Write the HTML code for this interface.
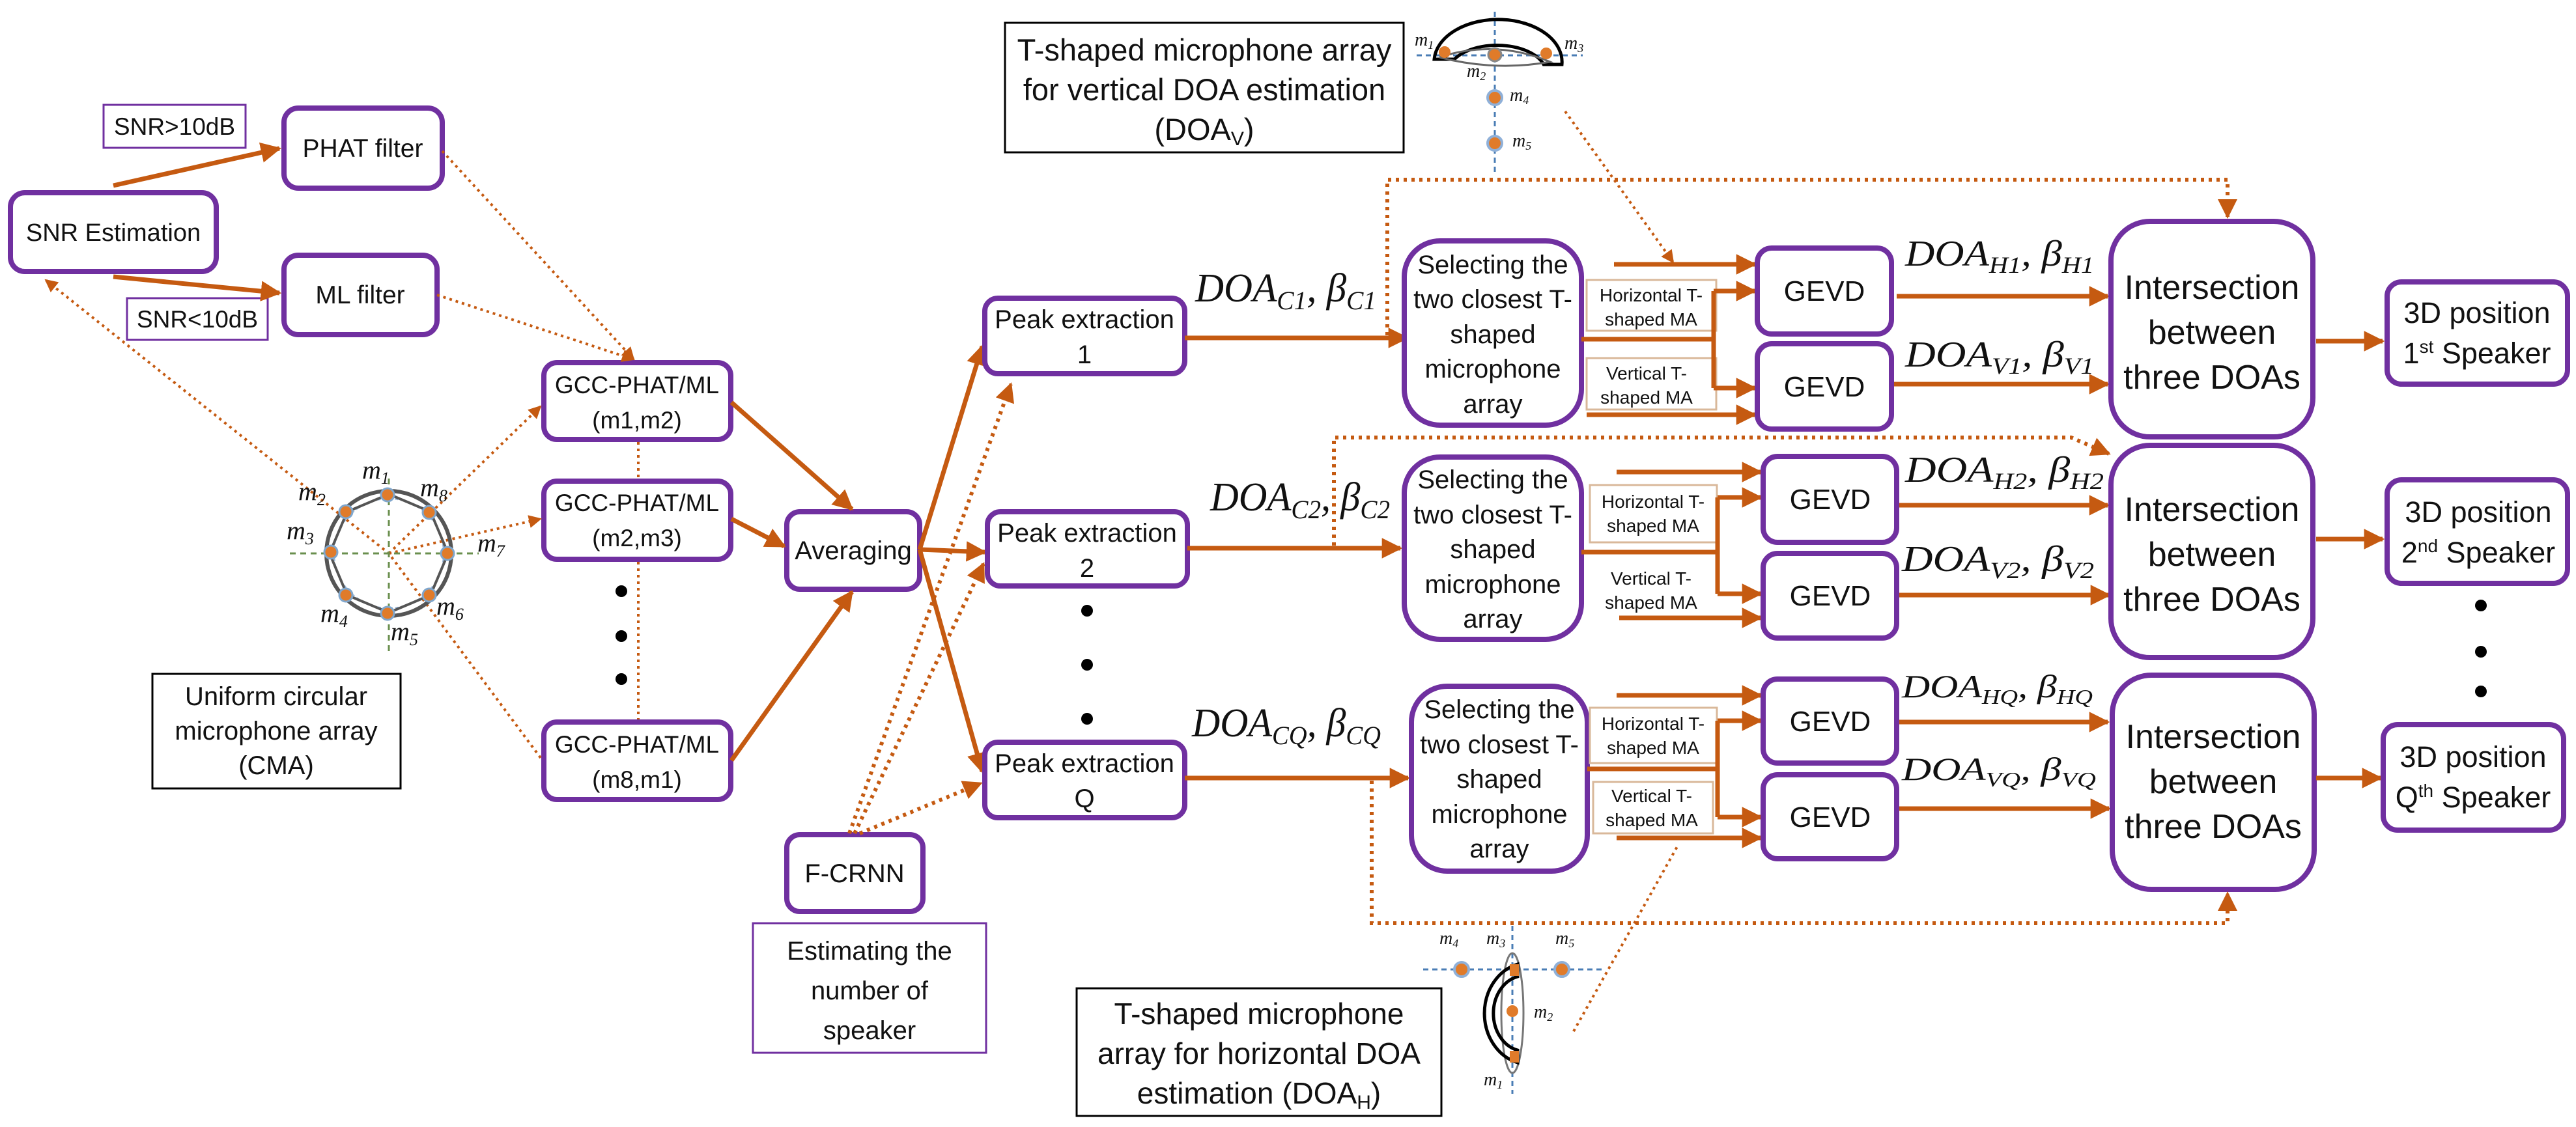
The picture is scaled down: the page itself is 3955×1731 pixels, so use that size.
<!DOCTYPE html>
<html><head><meta charset="utf-8"><style>
html,body{margin:0;padding:0;background:#fff}
svg{display:block}
.b{fill:#fff;stroke:#7030a0;stroke-width:8}
.t{font-family:"Liberation Sans",sans-serif;fill:#111;text-anchor:middle}
.s{stroke:#c55a11;stroke-width:7;fill:none}
.d{stroke:#c55a11;stroke-width:4;fill:none;stroke-dasharray:4 6}
.dd{stroke:#c55a11;stroke-width:6;fill:none;stroke-dasharray:5 7}
.m{font-family:"Liberation Serif",serif;font-style:italic;fill:#111}
.lb{fill:#fff;stroke:#d9b89a;stroke-width:3}
</style></head><body>
<svg width="3955" height="1731" viewBox="0 0 3955 1731" xmlns="http://www.w3.org/2000/svg">
<defs>
<marker id="a" viewBox="0 0 10 10" refX="9" refY="5" markerWidth="4.5" markerHeight="4.5" orient="auto" markerUnits="strokeWidth"><path d="M0,0L10,5L0,10z" fill="#c55a11"/></marker>
<marker id="ad" viewBox="0 0 10 10" refX="9" refY="5" markerWidth="5" markerHeight="5" orient="auto" markerUnits="strokeWidth"><path d="M0,0L10,5L0,10z" fill="#c55a11"/></marker>
</defs>

<rect class="b" x="16" y="296" width="316" height="121" rx="22"/>
<text class="t" x="174" y="370" font-size="38">SNR Estimation</text>
<rect class="b" x="436" y="166" width="243" height="123" rx="22"/>
<text class="t" x="557" y="241" font-size="39">PHAT filter</text>
<rect class="b" x="436" y="392" width="235" height="122" rx="22"/>
<text class="t" x="553" y="466" font-size="39">ML filter</text>
<rect x="159" y="161" width="218" height="66" fill="#fff" stroke="#7030a0" stroke-width="3"/>
<text class="t" x="268" y="207" font-size="37">SNR&gt;10dB</text>
<rect x="195" y="458" width="216" height="64" fill="#fff" stroke="#7030a0" stroke-width="3"/>
<text class="t" x="303" y="503" font-size="37">SNR&lt;10dB</text>

<line class="s" x1="174" y1="285" x2="429" y2="228" marker-end="url(#a)"/>
<line class="s" x1="174" y1="425" x2="429" y2="450" marker-end="url(#a)"/>

<rect class="b" x="835" y="557" width="287" height="118" rx="20"/>
<text class="t" x="978" y="604" font-size="37">GCC-PHAT/ML</text>
<text class="t" x="978" y="658" font-size="37">(m1,m2)</text>
<rect class="b" x="835" y="739" width="287" height="120" rx="20"/>
<text class="t" x="978" y="785" font-size="37">GCC-PHAT/ML</text>
<text class="t" x="978" y="839" font-size="37">(m2,m3)</text>
<rect class="b" x="835" y="1109" width="287" height="119" rx="20"/>
<text class="t" x="978" y="1156" font-size="37">GCC-PHAT/ML</text>
<text class="t" x="978" y="1210" font-size="37">(m8,m1)</text>
<line class="d" x1="980" y1="679" x2="980" y2="735"/>
<line class="d" x1="980" y1="863" x2="980" y2="1105"/>
<circle cx="954" cy="908" r="9" fill="#000"/><circle cx="954" cy="977" r="9" fill="#000"/><circle cx="954" cy="1043" r="9" fill="#000"/>

<line class="d" x1="679" y1="232" x2="973" y2="552" marker-end="url(#ad)"/>
<line class="d" x1="671" y1="453" x2="973" y2="552" marker-end="url(#ad)"/>
<polyline class="d" points="830,1164 597,850 70,430" marker-end="url(#ad)"/>
<line class="d" x1="597" y1="850" x2="830" y2="624" marker-end="url(#ad)"/>
<line class="d" x1="597" y1="850" x2="830" y2="797" marker-end="url(#ad)"/>

<g>
<line x1="597" y1="735" x2="597" y2="1000" stroke="#6a8f4e" stroke-width="3" stroke-dasharray="9 7"/>
<line x1="445" y1="850" x2="735" y2="850" stroke="#6a8f4e" stroke-width="3" stroke-dasharray="9 7"/>
<circle cx="597" cy="850" r="96" fill="none" stroke="#555" stroke-width="6"/>
<circle cx="597" cy="850" r="84" fill="none" stroke="#9bb8d8" stroke-width="2" stroke-dasharray="5 4"/>
<polygon points="597,759 661,786 688,850 661,914 597,941 533,914 506,850 533,786" fill="none" stroke="#555" stroke-width="4"/>
<g fill="#e07b2a" stroke="#7fa6cc" stroke-width="3">
<circle cx="595" cy="760" r="10"/><circle cx="659" cy="787" r="10"/><circle cx="687" cy="850" r="10"/><circle cx="659" cy="914" r="10"/>
<circle cx="595" cy="942" r="10"/><circle cx="531" cy="914" r="10"/><circle cx="508" cy="848" r="10"/><circle cx="531" cy="786" r="10"/>
</g>
<g class="m" font-size="40">
<text x="556" y="735">m<tspan font-size="26" dy="8">1</tspan></text>
<text x="645" y="762">m<tspan font-size="26" dy="8">8</tspan></text>
<text x="458" y="768">m<tspan font-size="26" dy="8">2</tspan></text>
<text x="440" y="828">m<tspan font-size="26" dy="8">3</tspan></text>
<text x="733" y="847">m<tspan font-size="26" dy="8">7</tspan></text>
<text x="492" y="955">m<tspan font-size="26" dy="8">4</tspan></text>
<text x="670" y="944">m<tspan font-size="26" dy="8">6</tspan></text>
<text x="600" y="983">m<tspan font-size="26" dy="8">5</tspan></text>
</g>
</g>
<rect x="234" y="1035" width="381" height="176" fill="#fff" stroke="#000" stroke-width="3"/>
<text class="t" x="424" y="1083" font-size="40">Uniform circular</text>
<text class="t" x="424" y="1136" font-size="40">microphone array</text>
<text class="t" x="424" y="1189" font-size="40">(CMA)</text>

<rect class="b" x="1208" y="786" width="204" height="119" rx="20"/>
<text class="t" x="1310" y="859" font-size="40">Averaging</text>
<line class="s" x1="1123" y1="618" x2="1308" y2="782" marker-end="url(#a)"/>
<line class="s" x1="1123" y1="797" x2="1204" y2="839" marker-end="url(#a)"/>
<line class="s" x1="1123" y1="1168" x2="1308" y2="909" marker-end="url(#a)"/>

<rect class="b" x="1208" y="1282" width="209" height="118" rx="20"/>
<text class="t" x="1312" y="1355" font-size="40">F-CRNN</text>
<rect x="1156" y="1418" width="358" height="199" fill="#fff" stroke="#7030a0" stroke-width="3"/>
<text class="t" x="1335" y="1474" font-size="40">Estimating the</text>
<text class="t" x="1335" y="1535" font-size="40">number of</text>
<text class="t" x="1335" y="1596" font-size="40">speaker</text>
<line class="dd" x1="1304" y1="1280" x2="1552" y2="590" marker-end="url(#ad)"/>
<line class="dd" x1="1312" y1="1280" x2="1510" y2="866" marker-end="url(#ad)"/>
<line class="dd" x1="1320" y1="1280" x2="1506" y2="1203" marker-end="url(#ad)"/>

<line class="s" x1="1412" y1="844" x2="1508" y2="532" marker-end="url(#a)"/>
<line class="s" x1="1412" y1="844" x2="1512" y2="848" marker-end="url(#a)"/>
<line class="s" x1="1412" y1="844" x2="1508" y2="1185" marker-end="url(#a)"/>

<rect class="b" x="1512" y="458" width="307" height="116" rx="20"/>
<text class="t" x="1665" y="504" font-size="40">Peak extraction</text>
<text class="t" x="1665" y="558" font-size="40">1</text>
<rect class="b" x="1516" y="786" width="307" height="114" rx="20"/>
<text class="t" x="1669" y="832" font-size="40">Peak extraction</text>
<text class="t" x="1669" y="886" font-size="40">2</text>
<rect class="b" x="1512" y="1140" width="307" height="116" rx="20"/>
<text class="t" x="1665" y="1186" font-size="40">Peak extraction</text>
<text class="t" x="1665" y="1240" font-size="40">Q</text>
<circle cx="1669" cy="938" r="9" fill="#000"/><circle cx="1669" cy="1021" r="9" fill="#000"/><circle cx="1669" cy="1104" r="9" fill="#000"/>

<g class="m" font-size="62">
<text x="1835" y="463" textLength="278" lengthAdjust="spacingAndGlyphs">DOA<tspan font-size="40" dy="12">C1</tspan><tspan dy="-12">, β</tspan><tspan font-size="40" dy="12">C1</tspan></text>
<text x="1858" y="784" textLength="276" lengthAdjust="spacingAndGlyphs">DOA<tspan font-size="40" dy="12">C2</tspan><tspan dy="-12">, β</tspan><tspan font-size="40" dy="12">C2</tspan></text>
<text x="1830" y="1131" textLength="290" lengthAdjust="spacingAndGlyphs">DOA<tspan font-size="40" dy="12">CQ</tspan><tspan dy="-12">, β</tspan><tspan font-size="40" dy="12">CQ</tspan></text>
</g>

<line class="s" x1="1819" y1="519" x2="2160" y2="519" marker-end="url(#a)"/>
<line class="s" x1="1823" y1="842" x2="2150" y2="842" marker-end="url(#a)"/>
<line class="s" x1="1819" y1="1195" x2="2162" y2="1195" marker-end="url(#a)"/>

<g>
<rect class="b" x="2156" y="370" width="272" height="283" rx="55"/>
<text class="t" x="2292" y="420" font-size="40">Selecting the</text>
<text class="t" x="2292" y="473" font-size="40">two closest T-</text>
<text class="t" x="2292" y="527" font-size="40">shaped</text>
<text class="t" x="2292" y="580" font-size="40">microphone</text>
<text class="t" x="2292" y="634" font-size="40">array</text>
<rect class="b" x="2156" y="702" width="272" height="280" rx="55"/>
<text class="t" x="2292" y="750" font-size="40">Selecting the</text>
<text class="t" x="2292" y="804" font-size="40">two closest T-</text>
<text class="t" x="2292" y="857" font-size="40">shaped</text>
<text class="t" x="2292" y="911" font-size="40">microphone</text>
<text class="t" x="2292" y="964" font-size="40">array</text>
<rect class="b" x="2167" y="1054" width="270" height="284" rx="55"/>
<text class="t" x="2302" y="1103" font-size="40">Selecting the</text>
<text class="t" x="2302" y="1157" font-size="40">two closest T-</text>
<text class="t" x="2302" y="1210" font-size="40">shaped</text>
<text class="t" x="2302" y="1264" font-size="40">microphone</text>
<text class="t" x="2302" y="1317" font-size="40">array</text>
</g>

<g font-size="28">
<rect class="lb" x="2436" y="430" width="199" height="78"/>
<text class="t" x="2535" y="463" font-size="28">Horizontal T-</text><text class="t" x="2535" y="500" font-size="28">shaped MA</text>
<rect class="lb" x="2436" y="550" width="199" height="79"/>
<text class="t" x="2528" y="583" font-size="28">Vertical T-</text><text class="t" x="2528" y="620" font-size="28">shaped MA</text>
<rect class="lb" x="2441" y="745" width="195" height="88"/>
<text class="t" x="2538" y="780" font-size="28">Horizontal T-</text><text class="t" x="2538" y="817" font-size="28">shaped MA</text>
<text class="t" x="2535" y="898" font-size="28">Vertical T-</text><text class="t" x="2535" y="935" font-size="28">shaped MA</text>
<rect class="lb" x="2441" y="1087" width="195" height="85"/>
<text class="t" x="2538" y="1121" font-size="28">Horizontal T-</text><text class="t" x="2538" y="1158" font-size="28">shaped MA</text>
<rect class="lb" x="2446" y="1201" width="184" height="79"/>
<text class="t" x="2536" y="1232" font-size="28">Vertical T-</text><text class="t" x="2536" y="1269" font-size="28">shaped MA</text>
</g>

<polyline class="s" points="2428,521 2631,521"/>
<line class="s" x1="2631" y1="447" x2="2631" y2="596"/>
<line class="s" x1="2631" y1="447" x2="2694" y2="447" marker-end="url(#a)"/>
<line class="s" x1="2631" y1="596" x2="2694" y2="596" marker-end="url(#a)"/>
<line class="s" x1="2478" y1="406" x2="2694" y2="406" marker-end="url(#a)"/>
<line class="s" x1="2436" y1="637" x2="2694" y2="637" marker-end="url(#a)"/>

<polyline class="s" points="2428,848 2637,848"/>
<line class="s" x1="2637" y1="764" x2="2637" y2="912"/>
<line class="s" x1="2637" y1="764" x2="2703" y2="764" marker-end="url(#a)"/>
<line class="s" x1="2637" y1="912" x2="2703" y2="912" marker-end="url(#a)"/>
<line class="s" x1="2482" y1="725" x2="2703" y2="725" marker-end="url(#a)"/>
<line class="s" x1="2486" y1="949" x2="2703" y2="949" marker-end="url(#a)"/>

<polyline class="s" points="2437,1181 2637,1181"/>
<line class="s" x1="2637" y1="1107" x2="2637" y2="1255"/>
<line class="s" x1="2637" y1="1107" x2="2703" y2="1107" marker-end="url(#a)"/>
<line class="s" x1="2637" y1="1255" x2="2703" y2="1255" marker-end="url(#a)"/>
<line class="s" x1="2482" y1="1068" x2="2703" y2="1068" marker-end="url(#a)"/>
<line class="s" x1="2482" y1="1287" x2="2703" y2="1287" marker-end="url(#a)"/>

<g>
<rect class="b" x="2698" y="381" width="206" height="132" rx="22"/><text class="t" x="2801" y="462" font-size="44">GEVD</text>
<rect class="b" x="2698" y="528" width="206" height="131" rx="22"/><text class="t" x="2801" y="609" font-size="44">GEVD</text>
<rect class="b" x="2707" y="701" width="205" height="132" rx="22"/><text class="t" x="2810" y="782" font-size="44">GEVD</text>
<rect class="b" x="2707" y="850" width="205" height="130" rx="22"/><text class="t" x="2810" y="930" font-size="44">GEVD</text>
<rect class="b" x="2707" y="1043" width="205" height="129" rx="22"/><text class="t" x="2810" y="1123" font-size="44">GEVD</text>
<rect class="b" x="2707" y="1190" width="205" height="129" rx="22"/><text class="t" x="2810" y="1270" font-size="44">GEVD</text>
</g>

<g class="m" font-size="56">
<text x="2925" y="408" textLength="290" lengthAdjust="spacingAndGlyphs">DOA<tspan font-size="36" dy="11">H1</tspan><tspan dy="-11">, β</tspan><tspan font-size="36" dy="11">H1</tspan></text>
<text x="2925" y="563" textLength="290" lengthAdjust="spacingAndGlyphs">DOA<tspan font-size="36" dy="11">V1</tspan><tspan dy="-11">, β</tspan><tspan font-size="36" dy="11">V1</tspan></text>
<text x="2925" y="740" textLength="305" lengthAdjust="spacingAndGlyphs">DOA<tspan font-size="36" dy="11">H2</tspan><tspan dy="-11">, β</tspan><tspan font-size="36" dy="11">H2</tspan></text>
<text x="2920" y="877" textLength="295" lengthAdjust="spacingAndGlyphs">DOA<tspan font-size="36" dy="11">V2</tspan><tspan dy="-11">, β</tspan><tspan font-size="36" dy="11">V2</tspan></text>
<text x="2920" y="1071" font-size="50" textLength="293" lengthAdjust="spacingAndGlyphs">DOA<tspan font-size="32" dy="10">HQ</tspan><tspan dy="-10">, β</tspan><tspan font-size="32" dy="10">HQ</tspan></text>
<text x="2920" y="1198" font-size="50" textLength="298" lengthAdjust="spacingAndGlyphs">DOA<tspan font-size="32" dy="10">VQ</tspan><tspan dy="-10">, β</tspan><tspan font-size="32" dy="10">VQ</tspan></text>
</g>

<line class="s" x1="2912" y1="455" x2="3236" y2="455" marker-end="url(#a)"/>
<line class="s" x1="2908" y1="590" x2="3236" y2="590" marker-end="url(#a)"/>
<line class="s" x1="2916" y1="776" x2="3236" y2="776" marker-end="url(#a)"/>
<line class="s" x1="2916" y1="914" x2="3238" y2="914" marker-end="url(#a)"/>
<line class="s" x1="2916" y1="1109" x2="3236" y2="1109" marker-end="url(#a)"/>
<line class="s" x1="2916" y1="1242" x2="3238" y2="1242" marker-end="url(#a)"/>

<g>
<rect class="b" x="3241" y="340" width="310" height="331" rx="60"/>
<text class="t" x="3396" y="459" font-size="52">Intersection</text>
<text class="t" x="3396" y="528" font-size="52">between</text>
<text class="t" x="3396" y="597" font-size="52">three DOAs</text>
<rect class="b" x="3241" y="684" width="310" height="326" rx="60"/>
<text class="t" x="3396" y="800" font-size="52">Intersection</text>
<text class="t" x="3396" y="869" font-size="52">between</text>
<text class="t" x="3396" y="938" font-size="52">three DOAs</text>
<rect class="b" x="3243" y="1037" width="310" height="329" rx="60"/>
<text class="t" x="3398" y="1149" font-size="52">Intersection</text>
<text class="t" x="3398" y="1218" font-size="52">between</text>
<text class="t" x="3398" y="1287" font-size="52">three DOAs</text>
</g>
<line class="s" x1="3556" y1="524" x2="3658" y2="524" marker-end="url(#a)"/>
<line class="s" x1="3556" y1="828" x2="3658" y2="828" marker-end="url(#a)"/>
<line class="s" x1="3556" y1="1195" x2="3655" y2="1195" marker-end="url(#a)"/>

<rect class="b" x="3665" y="433" width="277" height="157" rx="22"/>
<text class="t" x="3803" y="496" font-size="45">3D position</text>
<text class="t" x="3803" y="558" font-size="45">1<tspan font-size="28" dy="-16">st</tspan><tspan dy="16"> Speaker</tspan></text>
<rect class="b" x="3665" y="737" width="277" height="159" rx="22"/>
<text class="t" x="3805" y="802" font-size="45">3D position</text>
<text class="t" x="3805" y="864" font-size="45">2<tspan font-size="28" dy="-16">nd</tspan><tspan dy="16"> Speaker</tspan></text>
<rect class="b" x="3659" y="1113" width="277" height="162" rx="22"/>
<text class="t" x="3797" y="1178" font-size="45">3D position</text>
<text class="t" x="3797" y="1240" font-size="45">Q<tspan font-size="28" dy="-16">th</tspan><tspan dy="16">  Speaker</tspan></text>
<circle cx="3809" cy="930" r="9" fill="#000"/><circle cx="3809" cy="1001" r="9" fill="#000"/><circle cx="3809" cy="1062" r="9" fill="#000"/>

<polyline class="dd" points="2130,515 2130,276 3420,276 3420,333" marker-end="url(#ad)"/>
<polyline class="dd" points="2048,838 2048,672 3180,672 3238,697" marker-end="url(#ad)"/>
<polyline class="dd" points="2106,1199 2106,1418 3420,1418 3420,1372" marker-end="url(#ad)"/>
<line class="d" x1="2403" y1="171" x2="2569" y2="403" marker-end="url(#ad)"/>
<line class="d" x1="2416" y1="1584" x2="2577" y2="1297"/>

<rect x="1543" y="35" width="612" height="199" fill="#fff" stroke="#000" stroke-width="3"/>
<text class="t" x="1849" y="93" font-size="47">T-shaped microphone array</text>
<text class="t" x="1849" y="154" font-size="47">for vertical DOA estimation</text>
<text class="t" x="1849" y="215" font-size="47">(DOA<tspan font-size="30" dy="8">V</tspan><tspan dy="-8">)</tspan></text>
<g>
<line x1="2295" y1="18" x2="2295" y2="270" stroke="#4a7db5" stroke-width="3" stroke-dasharray="8 6"/>
<line x1="2175" y1="85" x2="2430" y2="85" stroke="#4a7db5" stroke-width="3" stroke-dasharray="8 6"/>
<path d="M2202,91 A98,65 0 0 1 2398,99 L2398,99 L2370,99 A75,42 0 0 0 2233,91 Z" fill="none" stroke="#000" stroke-width="5"/>
<path d="M2210,88 Q2295,60 2380,95 Q2295,110 2210,88" fill="none" stroke="#666" stroke-width="3"/>
<circle cx="2218" cy="80" r="9" fill="#e07b2a"/><circle cx="2295" cy="84" r="10" fill="#e07b2a" stroke="#888" stroke-width="3"/><circle cx="2374" cy="82" r="9" fill="#e07b2a"/>
<circle cx="2295" cy="150" r="11" fill="#e07b2a" stroke="#8fb0d8" stroke-width="4"/>
<circle cx="2295" cy="220" r="11" fill="#e07b2a" stroke="#8fb0d8" stroke-width="4"/>
<g class="m" font-size="28">
<text x="2172" y="70">m<tspan font-size="18" dy="5">1</tspan></text>
<text x="2402" y="75">m<tspan font-size="18" dy="5">3</tspan></text>
<text x="2252" y="118">m<tspan font-size="18" dy="5">2</tspan></text>
<text x="2318" y="155">m<tspan font-size="18" dy="5">4</tspan></text>
<text x="2322" y="225">m<tspan font-size="18" dy="5">5</tspan></text>
</g>
</g>

<rect x="1653" y="1518" width="560" height="196" fill="#fff" stroke="#000" stroke-width="3"/>
<text class="t" x="1933" y="1573" font-size="46">T-shaped microphone</text>
<text class="t" x="1933" y="1634" font-size="46">array for horizontal DOA</text>
<text class="t" x="1933" y="1695" font-size="46">estimation (DOA<tspan font-size="30" dy="8">H</tspan><tspan dy="-8">)</tspan></text>
<g>
<line x1="2322" y1="1422" x2="2322" y2="1680" stroke="#4a7db5" stroke-width="3" stroke-dasharray="8 6"/>
<line x1="2185" y1="1489" x2="2462" y2="1489" stroke="#4a7db5" stroke-width="3" stroke-dasharray="8 6"/>
<ellipse cx="2322" cy="1556" rx="17" ry="92" fill="none" stroke="#777" stroke-width="3"/>
<path d="M2330,1481 A68,78 0 0 0 2330,1632 L2330,1613 A48,58 0 0 1 2330,1500 Z" fill="none" stroke="#000" stroke-width="5"/>
<rect x="2318" y="1481" width="14" height="18" fill="#e07b2a"/><rect x="2318" y="1614" width="14" height="18" fill="#e07b2a"/>
<circle cx="2322" cy="1553" r="9" fill="#e07b2a"/>
<circle cx="2244" cy="1489" r="11" fill="#e07b2a" stroke="#8fb0d8" stroke-width="4"/>
<circle cx="2398" cy="1489" r="11" fill="#e07b2a" stroke="#8fb0d8" stroke-width="4"/>
<g class="m" font-size="28">
<text x="2210" y="1450">m<tspan font-size="18" dy="5">4</tspan></text>
<text x="2282" y="1450">m<tspan font-size="18" dy="5">3</tspan></text>
<text x="2388" y="1450">m<tspan font-size="18" dy="5">5</tspan></text>
<text x="2355" y="1563">m<tspan font-size="18" dy="5">2</tspan></text>
<text x="2278" y="1667">m<tspan font-size="18" dy="5">1</tspan></text>
</g>
</g>
</svg>
</body></html>
